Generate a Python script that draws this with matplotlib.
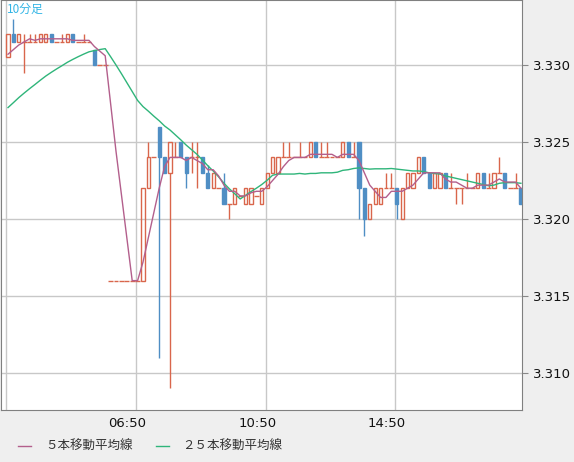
import matplotlib
matplotlib.use("Agg")
import matplotlib.pyplot as plt
import numpy as np
from matplotlib.transforms import ScaledTranslation

# closes of the 24 candles before the visible window (for MA25)
prior_close = [3.3235, 3.3238, 3.3241, 3.3244, 3.3247, 3.3250, 3.3253, 3.3256,
               3.3259, 3.3262, 3.3265, 3.3268, 3.3271, 3.3274, 3.3277, 3.3280,
               3.3283, 3.3286, 3.3290, 3.3295, 3.3300, 3.3305, 3.3305, 3.3305]

opens = [3.3305,3.3320,3.3315,3.3315,3.3315,3.3315,3.3315,3.3315,3.3320,3.3315,
         3.3315,3.3315,3.3320,3.3315,3.3315,3.3315,3.3310,3.3300,3.3300,3.3160,
         3.3160,3.3160,3.3160,3.3160,3.3160,3.3160,3.3220,3.3240,3.3260,3.3240,
         3.3230,3.3240,3.3250,3.3240,3.3240,3.3240,3.3240,3.3230,3.3220,3.3220,
         3.3220,3.3210,3.3210,3.3215,3.3210,3.3210,3.3215,3.3210,3.3220,3.3230,
         3.3230,3.3240,3.3240,3.3240,3.3240,3.3240,3.3240,3.3250,3.3240,3.3240,
         3.3240,3.3240,3.3240,3.3250,3.3240,3.3250,3.3220,3.3200,3.3210,3.3210,
         3.3220,3.3220,3.3220,3.3200,3.3220,3.3220,3.3230,3.3240,3.3230,3.3220,
         3.3220,3.3230,3.3220,3.3220,3.3220,3.3220,3.3220,3.3220,3.3230,3.3220,
         3.3220,3.3230,3.3230,3.3220,3.3220,3.3220]
highs = [3.3320,3.3330,3.3320,3.3320,3.3320,3.3320,3.3320,3.3320,3.3320,3.3315,
         3.3320,3.3320,3.3320,3.3315,3.3320,3.3315,3.3310,3.3300,3.3300,3.3160,
         3.3160,3.3160,3.3160,3.3160,3.3160,3.3220,3.3250,3.3240,3.3260,3.3240,
         3.3250,3.3250,3.3250,3.3240,3.3250,3.3250,3.3240,3.3235,3.3230,3.3220,
         3.3230,3.3210,3.3220,3.3215,3.3220,3.3220,3.3215,3.3220,3.3230,3.3240,
         3.3240,3.3250,3.3250,3.3240,3.3250,3.3240,3.3250,3.3250,3.3250,3.3250,
         3.3240,3.3240,3.3250,3.3250,3.3250,3.3250,3.3220,3.3210,3.3220,3.3220,
         3.3230,3.3230,3.3220,3.3220,3.3230,3.3230,3.3240,3.3240,3.3230,3.3230,
         3.3230,3.3230,3.3230,3.3220,3.3220,3.3230,3.3220,3.3230,3.3230,3.3230,
         3.3230,3.3240,3.3230,3.3220,3.3230,3.3220]
lows = [3.3305,3.3315,3.3315,3.3295,3.3315,3.3315,3.3315,3.3315,3.3315,3.3315,
        3.3315,3.3315,3.3315,3.3315,3.3315,3.3315,3.3300,3.3300,3.3300,3.3160,
        3.3160,3.3160,3.3160,3.3160,3.3160,3.3160,3.3220,3.3240,3.3110,3.3230,
        3.3090,3.3240,3.3240,3.3220,3.3230,3.3220,3.3230,3.3220,3.3220,3.3220,
        3.3210,3.3200,3.3210,3.3215,3.3210,3.3210,3.3215,3.3210,3.3220,3.3230,
        3.3230,3.3240,3.3240,3.3240,3.3240,3.3240,3.3240,3.3240,3.3240,3.3240,
        3.3240,3.3240,3.3240,3.3240,3.3240,3.3200,3.3189,3.3200,3.3210,3.3210,
        3.3220,3.3220,3.3200,3.3200,3.3220,3.3220,3.3230,3.3230,3.3220,3.3220,
        3.3220,3.3220,3.3220,3.3210,3.3210,3.3220,3.3220,3.3220,3.3220,3.3220,
        3.3220,3.3230,3.3220,3.3220,3.3220,3.3210]
closes = [3.3320,3.3315,3.3320,3.3315,3.3315,3.3315,3.3320,3.3320,3.3315,3.3315,
          3.3315,3.3320,3.3315,3.3315,3.3315,3.3315,3.3300,3.3300,3.3300,3.3160,
          3.3160,3.3160,3.3160,3.3160,3.3160,3.3220,3.3240,3.3240,3.3240,3.3230,
          3.3250,3.3240,3.3240,3.3230,3.3240,3.3240,3.3230,3.3220,3.3230,3.3220,
          3.3210,3.3210,3.3220,3.3215,3.3220,3.3220,3.3215,3.3220,3.3230,3.3240,
          3.3240,3.3240,3.3240,3.3240,3.3240,3.3240,3.3250,3.3240,3.3240,3.3240,
          3.3240,3.3240,3.3250,3.3240,3.3240,3.3220,3.3200,3.3210,3.3220,3.3220,
          3.3220,3.3220,3.3210,3.3220,3.3230,3.3230,3.3240,3.3230,3.3220,3.3230,
          3.3230,3.3220,3.3220,3.3220,3.3220,3.3220,3.3220,3.3230,3.3220,3.3220,
          3.3230,3.3230,3.3220,3.3220,3.3220,3.3210]

x_labels = ["06:50", "10:50", "14:50"]
x_label_idx = [24, 48, 72]
y_ticks = [3.310, 3.315, 3.320, 3.325, 3.330]

UP = "#d9664c"; DOWN = "#4f8ec4"; MA5C = "#b35f8c"; MA25C = "#2fb57a"

n = len(closes)
idx = np.arange(n)
allc = np.array(prior_close + closes)
ma5 = np.array([allc[len(prior_close)+i-4:len(prior_close)+i+1].mean() for i in range(n)])
ma25 = np.array([allc[len(prior_close)+i-24:len(prior_close)+i+1].mean() for i in range(n)])

fig = plt.figure(figsize=(5.74, 4.62), dpi=100, facecolor="#efefef")
ax = fig.add_axes([1/574, 52/462, 521/574, 410/462])
ax.set_facecolor("white")
ax.set_xlim(-1.3, 95.2)
ax.set_ylim(3.30760, 3.33422)

for g in y_ticks:
    ax.axhline(g, color="#c8c8c8", lw=1, zorder=0)
for g in [0] + x_label_idx:
    ax.axvline(g - 0.3, color="#c8c8c8", lw=1, zorder=0)

w = 0.6
for i in range(n):
    o, h, l, c = opens[i], highs[i], lows[i], closes[i]
    if c > o:
        col = UP
        ax.vlines(i, l, o, color=col, lw=1, zorder=3)
        ax.vlines(i, c, h, color=col, lw=1, zorder=3)
        ax.add_patch(plt.Rectangle((i - w/2, o), w, c - o, fill=False, ec=col, lw=1, zorder=3))
    elif c < o:
        col = DOWN
        ax.vlines(i, l, h, color=col, lw=1, zorder=3)
        ax.add_patch(plt.Rectangle((i - w/2, c), w, o - c, fc=col, ec=col, lw=1, zorder=3))
    else:
        col = UP
        ax.vlines(i, l, h, color=col, lw=1, zorder=3)
        ax.hlines(c, i - 0.45, i + 0.45, color=col, lw=1, zorder=3)

ax.plot(idx, ma25, color=MA25C, lw=1, zorder=4)
ax.plot(idx, ma5, color=MA5C, lw=1, zorder=4)

ax.yaxis.tick_right()
ax.set_yticks(y_ticks)
ax.set_yticklabels([f"{v:.3f}" for v in y_ticks], fontsize=9.5, color="#111111")
ax.set_xticks(x_label_idx)
ax.set_xticklabels(x_labels, fontsize=9.5, color="#111111")
ax.tick_params(axis="y", length=4, color="#888888", pad=4)
ax.tick_params(axis="x", length=0, pad=5)
for lab in ax.get_xticklabels():
    lab.set_transform(lab.get_transform() + ScaledTranslation(-0.1, 0, fig.dpi_scale_trans))
for s in ax.spines.values():
    s.set_color("#808080")

ax.text(0.012, 0.993, "10分足", transform=ax.transAxes, ha="left", va="top",
        fontsize=8.5, color="#33b5e5", family=["Noto Sans CJK JP", "DejaVu Sans"])

fam = ["Noto Sans CJK JP", "DejaVu Sans"]
fig.add_artist(plt.Line2D([18/574, 31/574], [16/462, 16/462], color=MA5C, lw=1))
fig.text(45/574, 16/462, "５本移動平均線", fontsize=9, color="#333333", va="center", family=fam)
fig.add_artist(plt.Line2D([156/574, 169/574], [16/462, 16/462], color=MA25C, lw=1))
fig.text(182/574, 16/462, "２５本移動平均線", fontsize=9, color="#333333", va="center", family=fam)

fig.savefig("out.png", dpi=100, facecolor=fig.get_facecolor())
